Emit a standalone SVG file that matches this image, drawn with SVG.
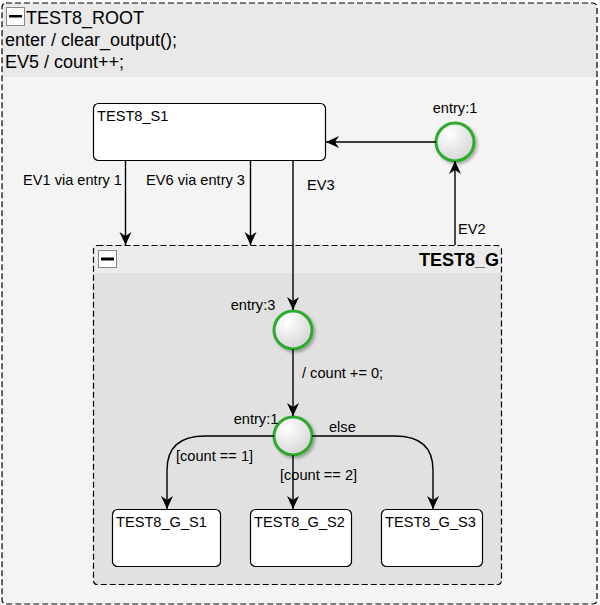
<svg xmlns="http://www.w3.org/2000/svg" width="600" height="605" viewBox="0 0 600 605">
<style>
text{font-family:"Liberation Sans",Arial,sans-serif;fill:#000}
.big{font-size:18px}
.lbl{font-size:14.6px}
.st{fill:#fff;stroke:#000;stroke-width:1.2}
.conn{fill:none;stroke:#000;stroke-width:1.4}
.ent{fill:url(#cg);stroke:#2fab2f;stroke-width:3;filter:url(#sh)}
.dash{fill:none;stroke:#000;stroke-width:1.2;stroke-dasharray:6 3}
.cb{fill:#fff;stroke:#888;stroke-width:1}
</style>
<defs>
<radialGradient id="cg" cx="0.35" cy="0.3" r="0.8">
<stop offset="0" stop-color="#ffffff"/>
<stop offset="1" stop-color="#d2d2d2"/>
</radialGradient>
<filter id="sh" x="-50%" y="-50%" width="200%" height="200%">
<feDropShadow dx="2" dy="2" stdDeviation="1.5" flood-color="#000" flood-opacity="0.3"/>
</filter>
<marker id="arr" markerWidth="14" markerHeight="14" viewBox="0 0 14 14" refX="13" refY="7" orient="auto" markerUnits="userSpaceOnUse">
<path d="M0,1 L13,7 L0,13 L4,7 z" fill="#000"/>
</marker>
</defs>
<g id="TEST8_ROOT">
<rect x="2" y="3" width="595" height="601" rx="4" fill="#f4f4f4"/>
<path d="M2,77 V7 Q2,3 6,3 H593 Q597,3 597,7 V77 z" fill="#e9e9e9"/>
<rect x="2" y="3" width="595" height="601" rx="4" class="dash"/>
<rect x="6.5" y="7.5" width="18" height="18" class="cb"/>
<rect x="9" y="15" width="13" height="2.5" fill="#000"/>
<text x="26" y="24" class="big">TEST8_ROOT</text>
<text x="5" y="46" class="big">enter / clear_output();</text>
<text x="5" y="68" class="big">EV5 / count++;</text>
</g>
<g id="TEST8_G">
<rect x="93.5" y="245.5" width="408" height="339" rx="4" fill="#e1e1e1"/>
<path d="M93.5,273 V249.5 Q93.5,245.5 97.5,245.5 H497.5 Q501.5,245.5 501.5,249.5 V273 z" fill="#ebebeb"/>
<rect x="93.5" y="245.5" width="408" height="339" rx="4" class="dash"/>
<rect x="98.5" y="250.5" width="18" height="17" class="cb"/>
<rect x="101" y="257.5" width="13" height="3" fill="#000"/>
<text x="499" y="266" class="big" text-anchor="end" font-weight="bold">TEST8_G</text>
</g>
<g id="TEST8_S1">
<rect x="93.5" y="103.5" width="232" height="57" rx="5" class="st"/>
<text x="97" y="121" class="lbl">TEST8_S1</text>
</g>
<g id="entry1_root">
<circle cx="455" cy="142" r="19" class="ent"/>
<text x="455" y="113" class="lbl" text-anchor="middle">entry:1</text>
</g>
<g id="entry3_G">
<circle cx="293" cy="330" r="19" class="ent"/>
<text x="253" y="310" class="lbl" text-anchor="middle">entry:3</text>
</g>
<g id="entry1_G">
<circle cx="293" cy="436" r="19" class="ent"/>
<text x="256" y="424" class="lbl" text-anchor="middle">entry:1</text>
</g>
<g id="TEST8_G_S1">
<rect x="112.5" y="509.5" width="108" height="57" rx="5" class="st"/>
<text x="116" y="527" class="lbl">TEST8_G_S1</text>
</g>
<g id="TEST8_G_S2">
<rect x="250.5" y="509.5" width="101" height="57" rx="5" class="st"/>
<text x="254" y="527" class="lbl">TEST8_G_S2</text>
</g>
<g id="TEST8_G_S3">
<rect x="381.5" y="509.5" width="101" height="57" rx="5" class="st"/>
<text x="385" y="527" class="lbl">TEST8_G_S3</text>
</g>
<g id="connectors">
<path d="M436,142 H326" class="conn" marker-end="url(#arr)"/>
<path d="M455,245 V161" class="conn" marker-end="url(#arr)"/>
<path d="M125.5,161 V245" class="conn" marker-end="url(#arr)"/>
<path d="M250.5,161 V245" class="conn" marker-end="url(#arr)"/>
<path d="M293,161 V310" class="conn" marker-end="url(#arr)"/>
<path d="M293,349 V416" class="conn" marker-end="url(#arr)"/>
<path d="M274,436 H205 Q167,436 167,470 V509" class="conn" marker-end="url(#arr)"/>
<path d="M293,455 V509" class="conn" marker-end="url(#arr)"/>
<path d="M312,436 H395 Q433,436 433,470 V509" class="conn" marker-end="url(#arr)"/>
<text x="23" y="185" class="lbl">EV1 via entry 1</text>
<text x="146" y="185" class="lbl">EV6 via entry 3</text>
<text x="307" y="190" class="lbl">EV3</text>
<text x="458" y="234" class="lbl">EV2</text>
<text x="302" y="378" class="lbl">/ count += 0;</text>
<text x="329" y="432" class="lbl">else</text>
<text x="176" y="461" class="lbl">[count == 1]</text>
<text x="280" y="480" class="lbl">[count == 2]</text>
</g>
</svg>
